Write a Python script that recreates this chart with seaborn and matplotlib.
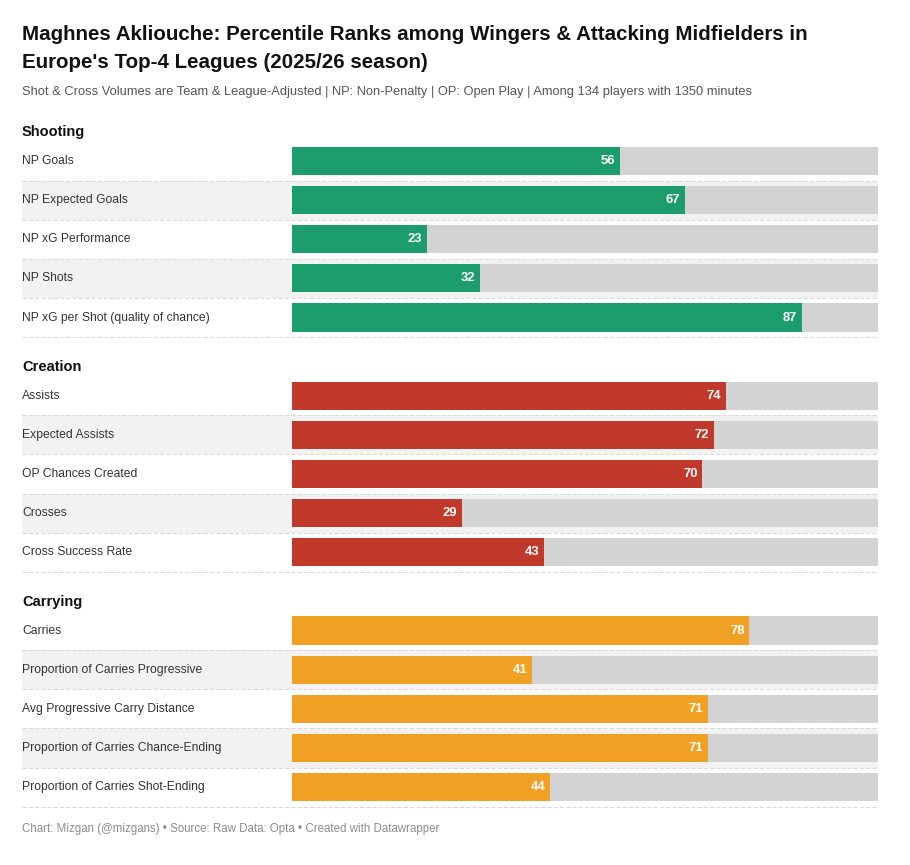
import pandas as pd
import numpy as np
import matplotlib.pyplot as plt
import seaborn as sns

# Chart data
sections = ["Shooting", "Creation", "Carrying"]
shooting_labels = ["NP Goals", "NP Expected Goals", "NP xG Performance", "NP Shots",
                   "NP xG per Shot (quality of chance)"]
shooting_values = [56, 67, 23, 32, 87]
creation_labels = ["Assists", "Expected Assists", "OP Chances Created", "Crosses",
                   "Cross Success Rate"]
creation_values = [74, 72, 70, 29, 43]
carrying_labels = ["Carries", "Proportion of Carries Progressive", "Avg Progressive Carry Distance",
                   "Proportion of Carries Chance-Ending", "Proportion of Carries Shot-Ending"]
carrying_values = [78, 41, 71, 71, 44]

palette = {"Shooting": "#1b9e6c", "Creation": "#c0392b", "Carrying": "#f0a023"}

# Build one table, each section starts after a header slot
rows = []
slot = 0
for sec, labs, vals in zip(sections,
                           [shooting_labels, creation_labels, carrying_labels],
                           [shooting_values, creation_values, carrying_values]):
    slot += 1  # header slot
    for i, (lab, val) in enumerate(zip(labs, vals)):
        rows.append({"section": sec, "label": lab, "value": val, "slot": slot, "idx": i})
        slot += 1
df = pd.DataFrame(rows)
df["full"] = 100

sns.set_theme(style="white")
plt.rcParams["font.family"] = ["Liberation Sans", "DejaVu Sans"]

W, H = 910, 865
fig = plt.figure(figsize=(W / 100, H / 100), dpi=100)

# pixel mapping
x0_px, x100_px = 292, 878
ppu = (x100_px - x0_px) / 100
left_px = 22
row0_px, row_h = 161, 39.13
ax = fig.add_axes([left_px / W, 0, (x100_px - left_px) / W, 1])
xmin_data = -(x0_px - left_px) / ppu

# shading for alternate rows and dashed separators
for _, r in df.iterrows():
    if r["idx"] % 2 == 1:
        ax.axhspan(r["slot"] - 0.5, r["slot"] + 0.5, color="#f2f2f2", zorder=0, lw=0)
    ax.axhline(r["slot"] + 0.5, color="#d9d9d9", lw=0.75, ls=(0, (4, 2)), zorder=1)

sns.barplot(data=df, x="full", y="slot", orient="y", native_scale=True,
            color="#d3d3d3", width=0.72, ax=ax, saturation=1, zorder=2, linewidth=0)
sns.barplot(data=df, x="value", y="slot", hue="section", palette=palette, orient="y",
            native_scale=True, dodge=False, width=0.72, legend=False, ax=ax,
            saturation=1, zorder=3, linewidth=0)

for _, r in df.iterrows():
    ax.text(xmin_data, r["slot"], r["label"], ha="left", va="center",
            fontsize=8.7, color="#333333")
    ax.text(r["value"] - 0.8, r["slot"], str(r["value"]), ha="right", va="center",
            fontsize=9.4, color="white", fontweight="bold", zorder=4)

for sec in sections:
    first = df.loc[df["section"] == sec, "slot"].min()
    ax.text(xmin_data, first - 0.74, sec, ha="left", va="center",
            fontsize=10.5, fontweight="bold", color="#111111")

# set limits after seaborn so the pixel mapping holds
ax.set_xlim(xmin_data, 100)
ylo = (H - row0_px) / row_h + 1
yhi = (0 - row0_px) / row_h + 1
ax.set_ylim(ylo, yhi)
ax.set_axis_off()

fig.text(left_px / W, 1 - 35 / H,
         "Maghnes Akliouche: Percentile Ranks among Wingers & Attacking Midfielders in",
         ha="left", va="center", fontsize=14.8, fontweight="bold", color="#111111")
fig.text(left_px / W, 1 - 63 / H, "Europe's Top-4 Leagues (2025/26 season)",
         ha="left", va="center", fontsize=14.8, fontweight="bold", color="#111111")
fig.text(left_px / W, 1 - 92 / H,
         "Shot & Cross Volumes are Team & League-Adjusted | NP: Non-Penalty | OP: Open Play | "
         "Among 134 players with 1350 minutes",
         ha="left", va="center", fontsize=9.3, color="#555555")
fig.text(left_px / W, 1 - 829 / H,
         "Chart: Mizgan (@mizgans) \u2022 Source: Raw Data: Opta \u2022 Created with Datawrapper",
         ha="left", va="center", fontsize=8.3, color="#8c8c8c")

fig.savefig("out.png", dpi=100, facecolor="white")
